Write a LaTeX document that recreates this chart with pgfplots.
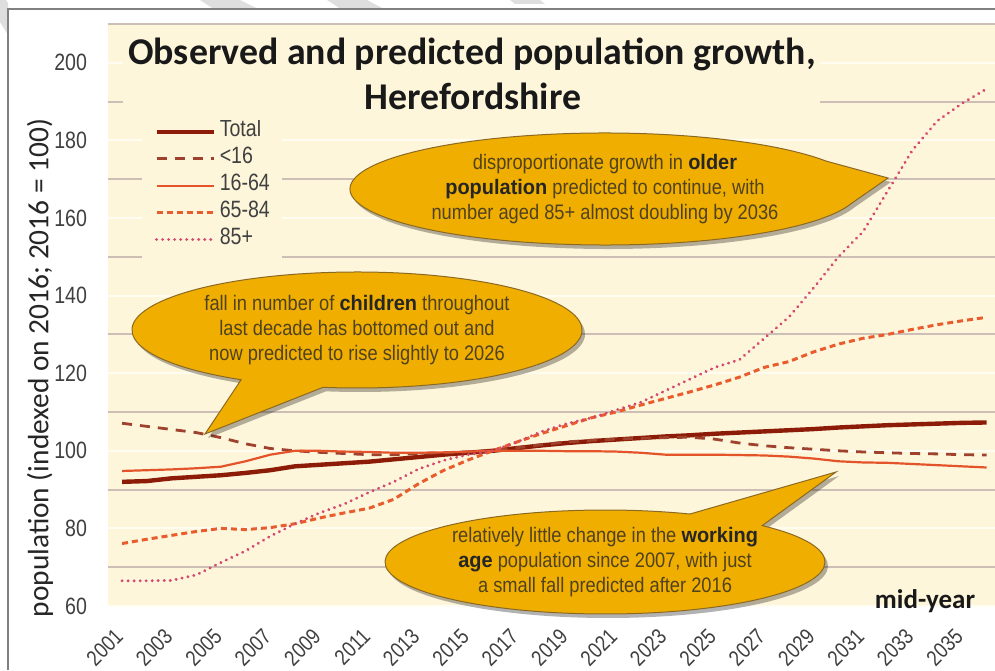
\documentclass[border=0pt]{standalone}
\usepackage{fontspec}
\usepackage{pgfplots}
\usepackage{pgfplotstable}
\pgfplotsset{compat=1.18}
\setmainfont{Liberation Sans}
\newfontfamily\tickfont[FakeStretch=0.83]{Liberation Sans}
\newfontfamily\callfont[FakeStretch=0.87]{Liberation Sans}
\newfontfamily\callbold[FakeStretch=0.95]{Liberation Sans Bold}
\newfontfamily\carlito{Carlito}

\definecolor{bg}{RGB}{254,246,218}
\definecolor{gridd}{RGB}{205,190,182}
\definecolor{gridl}{RGB}{255,252,242}
\definecolor{ctot}{RGB}{140,28,8}
\definecolor{cu16}{RGB}{158,66,46}
\definecolor{cwork}{RGB}{228,84,42}
\definecolor{cold}{RGB}{232,92,45}
\definecolor{c85}{RGB}{212,72,112}
\definecolor{gold}{RGB}{240,174,0}
\definecolor{goldb}{RGB}{140,105,35}
\definecolor{ctext}{RGB}{80,66,30}
\definecolor{framec}{RGB}{128,128,128}

\pgfplotstableread{
year total u16 work old old85
2001 92.0 107.1 94.8 76.1 66.5
2002 92.2 106.3 95.0 77.2 66.5
2003 92.9 105.5 95.2 78.2 66.6
2004 93.3 104.7 95.5 79.2 68.0
2005 93.7 103.4 95.9 80.0 71.2
2006 94.3 101.8 97.3 79.7 74.2
2007 95.0 100.6 99.0 80.2 78.0
2008 96.0 100.0 100.0 81.2 81.2
2009 96.4 99.6 100.0 82.7 84.0
2010 96.8 99.3 99.8 84.0 86.3
2011 97.2 99.0 99.7 85.2 89.3
2012 97.8 99.0 99.5 87.5 92.0
2013 98.4 99.3 99.5 91.5 95.3
2014 99.0 99.5 99.6 94.9 97.5
2015 99.5 99.7 99.8 97.6 99.0
2016 100.0 100.0 100.0 100.0 100.0
2017 100.7 100.8 100.0 102.3 102.3
2018 101.4 101.6 100.0 104.5 105.0
2019 102.0 102.3 99.9 106.5 107.0
2020 102.5 102.7 99.9 108.5 108.5
2021 102.9 103.0 99.8 110.0 110.5
2022 103.3 103.2 99.5 111.8 112.5
2023 103.7 103.4 99.0 113.5 115.5
2024 104.0 103.5 99.0 115.2 118.5
2025 104.4 103.0 99.0 117.0 121.5
2026 104.7 102.0 98.9 119.0 123.5
2027 105.0 101.3 98.8 121.5 129.0
2028 105.3 100.8 98.5 123.0 134.5
2029 105.6 100.4 98.0 125.5 142.0
2030 106.0 100.0 97.3 127.5 150.0
2031 106.3 99.7 97.0 129.0 156.5
2032 106.6 99.5 96.9 130.0 167.0
2033 106.8 99.3 96.6 131.3 177.5
2034 107.0 99.2 96.3 132.5 185.0
2035 107.2 99.0 96.0 133.5 189.5
2036 107.3 98.9 95.7 134.4 193.3
}\data

\newcommand{\calloutpath}[8]{(#1,#2) ++(#5:#3 and #4) arc[start angle=#5, end angle=#6, x radius=#3, y radius=#4] -- (#7,#8) -- cycle}

\begin{document}
\begin{tikzpicture}
\useasboundingbox (0,0) rectangle (497.5pt,335pt);
\fill[white] (0,0) rectangle (497.5pt,335pt);
\begin{axis}[
  at={(54pt,32pt)}, anchor=south west,
  scale only axis, width=443.5pt, height=291pt,
  xmin=2000.43, xmax=2036.34, ymin=60, ymax=210,
  axis background/.style={fill=bg},
  axis line style={draw=none},
  major tick length=0pt, minor tick length=0pt,
  xtick={2001,2003,...,2035},
  ytick={60,80,...,200},
  minor ytick={70,90,...,210},
  ymajorgrids, yminorgrids,
  major grid style={draw=gridl, line width=1pt},
  minor grid style={draw=gridd, line width=1pt},
  /pgf/number format/assume math mode=true,
  /pgf/number format/1000 sep={},
  ticklabel style={font=\fontsize{11.8}{13}\selectfont\tickfont, text=black!75},
  xticklabel style={font=\fontsize{11}{12}\selectfont\tickfont, xshift=1pt, yshift=-11pt, rotate=45, anchor=east},
  yticklabel style={xshift=-7pt},
  ylabel={population (indexed on 2016; 2016 = 100)},
  ylabel style={at={(axis description cs:-0.0767,0.409)}, anchor=center, font=\fontsize{14.7}{16}\selectfont\carlito, text=black!85},
  legend style={at={(axis description cs:0.0383,0.849)}, anchor=north west, draw=none, fill=bg,
    font=\fontsize{11.8}{13}\selectfont\tickfont, text=black!75, inner xsep=6pt, inner ysep=3pt,
    row sep=0pt, nodes={inner sep=0pt, text height=9pt, text depth=4.5pt},
    /tikz/every odd column/.style={column sep=2pt}},
  legend cell align=left,
  legend image code/.code={\draw[#1] (0pt,0pt) -- (28.5pt,0pt);},
]
\addplot[ctot, line width=2.2pt] table[x=year,y=total]{\data};
\addlegendentry{Total}
\addplot[cu16, line width=1.4pt, dash pattern=on 5pt off 4pt] table[x=year,y=u16]{\data};
\addlegendentry{<16}
\addplot[cwork, line width=1.1pt] table[x=year,y=work]{\data};
\addlegendentry{16-64}
\addplot[cold, line width=1.5pt, dash pattern=on 3pt off 2pt] table[x=year,y=old]{\data};
\addlegendentry{65-84}
\addplot[c85, line width=1.6pt, line cap=round, dash pattern=on 0.01pt off 3pt] table[x=year,y=old85]{\data};
\addlegendentry{85+}
\end{axis}

\begin{scope}[x=0.5pt, y=-0.5pt, yshift=335pt]
  % stripes and frame
  \fill[black!13] (200,0) -- (240,0) -- (257,8.5) -- (213,8.5) -- cycle;
  \fill[black!13] (327,0) -- (367,0) -- (383,8.5) -- (340,8.5) -- cycle;
  \fill[black!13] (510,0) -- (540,0) -- (545,4) -- (515,4) -- cycle;
  \fill[black!13] (0,0) -- (6,0) -- (8,3) -- (8,35) -- (0,22) -- cycle;
  \draw[framec, line width=0.75pt] (8,670) -- (8,9) -- (995,9);
  % title
  \fill[bg] (123,28) rectangle (820,120);
  \node[font=\carlito\bfseries\fontsize{18.9}{22}\selectfont, anchor=base, text=black!90] at (472,65) {Observed and predicted population growth,};
  \node[font=\carlito\bfseries\fontsize{18.9}{22}\selectfont, anchor=base, text=black!90] at (473,110) {Herefordshire};
  % callout 1
  \fill[black, opacity=0.3] [shift={(3,4)}] \calloutpath{605}{189}{255}{56}{15}{330}{888}{178};
  \draw[fill=gold, draw=goldb, line width=0.5pt] \calloutpath{605}{189}{255}{56}{15}{330}{888}{178};
  \node[align=center, font=\fontsize{10.5}{12.5}\selectfont\callfont, text=ctext] at (605,189)
    {disproportionate growth in {\callbold\color{black!85}older}\\{\callbold\color{black!85}population} predicted to continue, with\\number aged 85+ almost doubling by 2036};
  % callout 2
  \fill[black, opacity=0.3] [shift={(3,4)}] \calloutpath{357}{330}{225}{58}{121}{458.7}{205}{434};
  \draw[fill=gold, draw=goldb, line width=0.5pt] \calloutpath{357}{330}{225}{58}{121}{458.7}{205}{434};
  \node[align=center, font=\fontsize{10.5}{12.5}\selectfont\callfont, text=ctext] at (357,330)
    {fall in number of {\callbold\color{black!85}children} throughout\\last decade has bottomed out and\\now predicted to rise slightly to 2026};
  % callout 3
  \fill[black, opacity=0.3] [shift={(3,4)}] \calloutpath{605}{562}{220}{52}{315.6}{652.7}{836}{472};
  \draw[fill=gold, draw=goldb, line width=0.5pt] \calloutpath{605}{562}{220}{52}{315.6}{652.7}{836}{472};
  \node[align=center, font=\fontsize{10.5}{12.5}\selectfont\callfont, text=ctext] at (605,562)
    {relatively little change in the {\callbold\color{black!85}working}\\{\callbold\color{black!85}age} population since 2007, with just\\a small fall predicted after 2016};
  % x title
  \node[font=\carlito\bfseries\fontsize{13.5}{15}\selectfont, anchor=base, text=black!90] at (925,608) {mid-year};
\end{scope}
\end{tikzpicture}
\end{document}
